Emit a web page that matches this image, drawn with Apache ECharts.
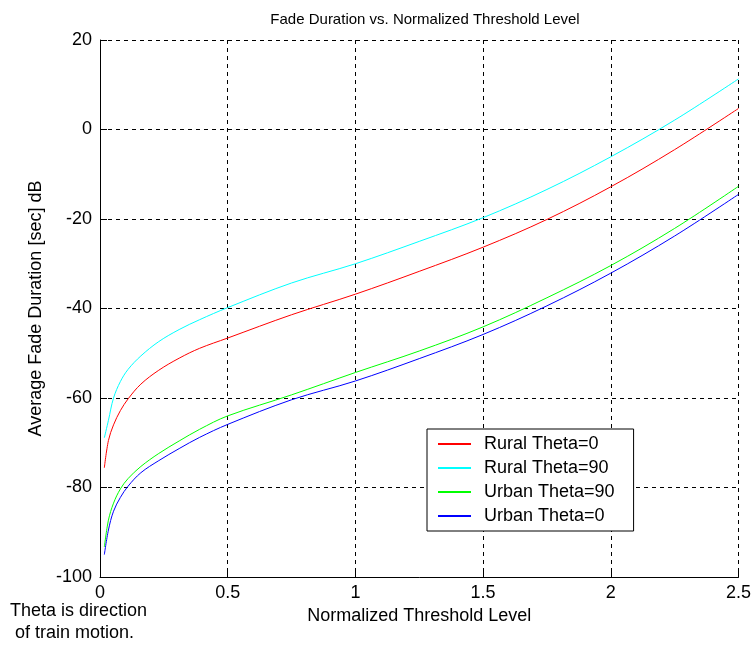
<!DOCTYPE html>
<html>
<head>
<meta charset="utf-8">
<script src="https://cdn.jsdelivr.net/npm/echarts@6/dist/echarts.min.js"></script>
<style>
  html, body { margin: 0; padding: 0; background: #fff; }
  #main { width: 754px; height: 647px; }
</style>
</head>
<body>
<div id="main"></div>
<script>
// threshold levels (x) and fade durations (dB)
var levels = [0.017, 0.033, 0.053, 0.08, 0.11, 0.16, 0.23, 0.31, 0.39, 0.5, 0.75, 1.0, 1.25, 1.5, 1.75, 2.0, 2.25, 2.5];
var ruralTheta0 = [-75.6, -69.5, -66.0, -62.8, -60.2, -56.9, -53.8, -51.1, -48.9, -46.6, -41.4, -36.8, -31.7, -26.3, -20.1, -12.8, -4.5, 4.7];
var ruralTheta90 = [-68.9, -65.0, -60.0, -56.3, -53.6, -50.6, -47.4, -44.7, -42.5, -39.8, -34.3, -30.0, -25.0, -19.7, -13.4, -6.1, 2.1, 11.3];
var urbanTheta90 = [-93.3, -87.3, -83.5, -80.3, -78.0, -75.3, -72.4, -69.6, -67.0, -64.0, -59.3, -54.3, -49.5, -44.1, -37.6, -30.4, -22.1, -12.7];
var urbanTheta0 = [-95.0, -89.5, -85.3, -82.2, -79.7, -76.7, -74.0, -71.3, -68.8, -65.9, -60.4, -56.2, -51.2, -45.8, -39.4, -32.1, -23.8, -14.5];
var seriesNames = ['Rural Theta=0', 'Rural Theta=90', 'Urban Theta=90', 'Urban Theta=0'];
var seriesColors = ['#ff0000', '#00ffff', '#00ff00', '#0000ff'];

var font = 'Liberation Sans';

function pairs(ys) {
    var out = [];
    for (var i = 0; i < levels.length; i++) out.push([levels[i], ys[i]]);
    return out;
}

var myChart = echarts.init(document.getElementById('main'));
var allData = [ruralTheta0, ruralTheta90, urbanTheta90, urbanTheta0];
var series = [];
for (var k = 0; k < allData.length; k++) {
    series.push({
        name: seriesNames[k],
        type: 'line',
        data: pairs(allData[k]),
        smooth: 0.35,
        symbol: 'none',
        lineStyle: { color: seriesColors[k], width: 1 },
        itemStyle: { color: seriesColors[k] }
    });
}

var option = {
    animation: false,
    backgroundColor: '#fff',
    title: {
        text: 'Fade Duration vs. Normalized Threshold Level',
        left: 420,
        top: 7,
        textAlign: 'center',
        textStyle: { fontFamily: font, fontSize: 15, fontWeight: 'normal', color: '#000' }
    },
    legend: {
        orient: 'vertical',
        left: 427,
        top: 429,
        data: seriesNames,
        backgroundColor: '#fff',
        borderColor: '#000',
        borderWidth: 1,
        borderRadius: 0,
        padding: [6, 19, 6, 10],
        itemWidth: 33,
        itemHeight: 14,
        itemGap: 6,
        itemStyle: { opacity: 0 },
        textStyle: { fontFamily: font, fontSize: 18, color: '#000', padding: [0, 0, 0, 8] }
    },
    grid: { left: 100, right: 13, top: 40, bottom: 70, containLabel: false },
    xAxis: {
        type: 'value',
        min: 0,
        max: 2.5,
        interval: 0.5,
        name: 'Normalized Threshold Level',
        nameLocation: 'middle',
        nameGap: 28,
        nameTextStyle: { fontFamily: font, fontSize: 18, color: '#000' },
        axisLine: { show: true, onZero: false, lineStyle: { color: '#000', width: 1 } },
        axisTick: { show: true, inside: true, length: 7, lineStyle: { color: '#000' } },
        axisLabel: { fontFamily: font, fontSize: 18, color: '#000', margin: 7 },
        splitLine: { show: true, lineStyle: { color: '#000', type: [4, 4], width: 1 } }
    },
    yAxis: {
        type: 'value',
        min: -100,
        max: 20,
        interval: 20,
        name: 'Average Fade Duration [sec] dB',
        nameLocation: 'middle',
        nameGap: 50,
        nameTextStyle: { fontFamily: font, fontSize: 18, color: '#000' },
        axisLine: { show: true, onZero: false, lineStyle: { color: '#000', width: 1 } },
        axisTick: { show: true, inside: true, length: 7, lineStyle: { color: '#000' } },
        axisLabel: { fontFamily: font, fontSize: 18, color: '#000', margin: 8 },
        splitLine: { show: true, lineStyle: { color: '#000', type: [4, 4], width: 1 } }
    },
    graphic: [{
        type: 'text',
        left: 10,
        top: 600,
        style: {
            text: 'Theta is direction\n of train motion.',
            fontFamily: font,
            fontSize: 18,
            lineHeight: 22,
            fill: '#000'
        }
    }],
    series: series
};

myChart.setOption(option);
</script>
</body>
</html>
